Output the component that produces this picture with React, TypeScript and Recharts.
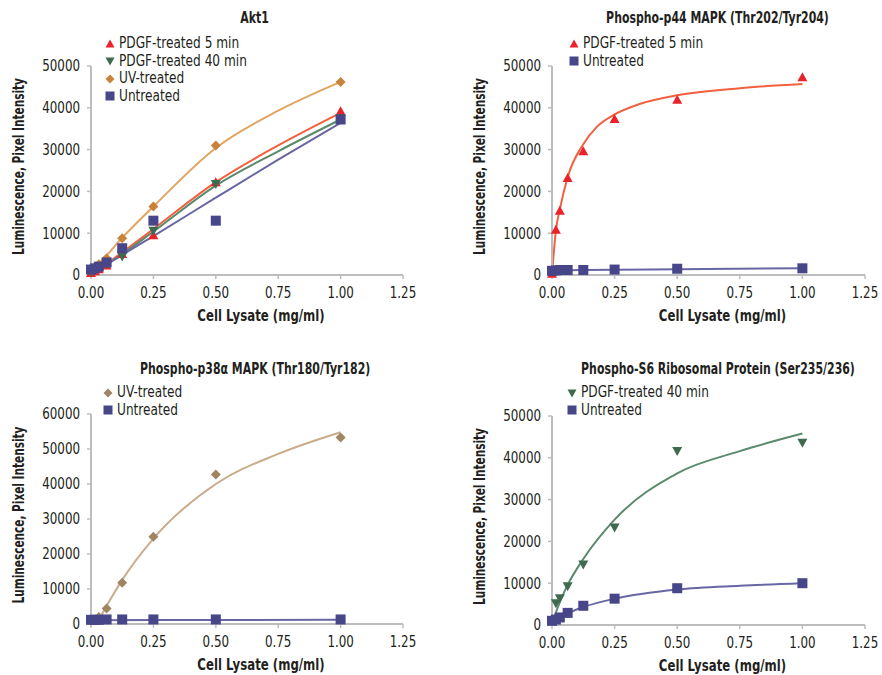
import React from "react";
import { ComposedChart, Line, Scatter, XAxis, YAxis } from "recharts";

// dose series used for every measured point (mg/ml)
const doses = [0, 0.0156, 0.03125, 0.0625, 0.125, 0.25, 0.5, 1.0];
const xTicks = [0, 0.25, 0.5, 0.75, 1.0, 1.25];

// Akt1
const akt1Pdgf5 = [500, 900, 1400, 2300, 5000, 9500, 22200, 39200];
const akt1Pdgf40 = [800, 1100, 1600, 2600, 4400, 10600, 21800, 37500];
const akt1Uv = [1200, 1800, 2600, 4000, 8800, 16400, 31000, 46200];
const akt1Untreated = [1300, 1600, 2000, 3000, 6400, 13000, 13000, 37200];
const akt1FitX = [0, 0.0625, 0.125, 0.25, 0.5, 0.75, 1.0];
const akt1FitPdgf5 = [0, 2700, 5400, 11000, 22200, 31000, 38800];
const akt1FitPdgf40 = [0, 2500, 5000, 10400, 21400, 29600, 37200];
const akt1FitUv = [800, 4700, 8900, 16400, 30400, 39300, 46200];
const akt1FitUntreated = [300, 2500, 4800, 9300, 18500, 27600, 36400];

// Phospho-p44 MAPK
const p44Pdgf5 = [300, 10800, 15400, 23200, 29600, 37300, 41900, 47300];
const p44Untreated = [1000, 1100, 1200, 1200, 1200, 1300, 1500, 1600];
const p44FitX = [0, 0.0156, 0.03125, 0.0625, 0.125, 0.18, 0.25, 0.35, 0.5, 0.75, 1.0];
const p44FitPdgf5 = [0, 10700, 15700, 23400, 31300, 35500, 38400, 40900, 43000, 44700, 45700];
const p44FitUntX = [0, 0.25, 0.5, 1.0];
const p44FitUntreated = [1100, 1250, 1400, 1600];

// Phospho-p38a MAPK
const p38Uv = [1000, 1200, 2000, 4400, 11800, 24900, 42700, 53300];
const p38Untreated = [1200, 1200, 1200, 1300, 1300, 1300, 1300, 1300];
const p38FitX = [0, 0.03125, 0.0625, 0.125, 0.25, 0.5, 0.75, 1.0];
const p38FitUv = [0, 1500, 5200, 12600, 24400, 40000, 48600, 54800];
const p38FitUntX = [0, 0.5, 1.0];
const p38FitUntreated = [1100, 1150, 1200];

// Phospho-S6 Ribosomal Protein
const s6Pdgf40 = [1000, 5200, 6400, 9300, 14500, 23300, 41600, 43600];
const s6Untreated = [1000, 1300, 1800, 2900, 4600, 6300, 8800, 10000];
const s6FitX = [0, 0.0156, 0.03125, 0.0625, 0.125, 0.25, 0.5, 0.75, 1.0];
const s6FitPdgf40 = [0, 3000, 5500, 9600, 15800, 25200, 36300, 41600, 45800];
const s6FitUntreated = [800, 1300, 1800, 2800, 4300, 6300, 8500, 9400, 10000];

const FONT = "'DejaVu Sans Condensed', 'DejaVu Sans', sans-serif";
const AXIS_GRAY = "#bdbdbd";
const TEXT = "#231f20";

const toPts = (xs: number[], ys: number[]) => xs.map((x, i) => ({ x, y: ys[i] }));

type Kind = "up" | "down" | "diamond" | "square";

const Marker = ({ cx, cy, kind, color, s = 4.5 }: any) => {
  if (cx == null || cy == null) return null;
  if (kind === "up")
    return <polygon points={`${cx},${cy - s} ${cx + s},${cy + s * 0.8} ${cx - s},${cy + s * 0.8}`} fill={color} />;
  if (kind === "down")
    return <polygon points={`${cx},${cy + s} ${cx + s},${cy - s * 0.8} ${cx - s},${cy - s * 0.8}`} fill={color} />;
  if (kind === "diamond")
    return <polygon points={`${cx},${cy - s} ${cx + s},${cy} ${cx},${cy + s} ${cx - s},${cy}`} fill={color} />;
  return <rect x={cx - s} y={cy - s} width={s * 2} height={s * 2} fill={color} />;
};

// condensed-looking tick labels (the original uses a narrow face)
const XTick = ({ x, y, payload }: any) => (
  <text
    transform={`translate(${x},${y}) scale(0.88,1)`}
    textAnchor="middle"
    dy="0.71em"
    fontSize={15}
    fill={TEXT}
  >
    {Number(payload.value).toFixed(2)}
  </text>
);

const YTick = ({ x, y, payload }: any) => (
  <text
    transform={`translate(${x},${y}) scale(0.88,1)`}
    textAnchor="end"
    dy="0.355em"
    fontSize={15}
    fill={TEXT}
  >
    {payload.value}
  </text>
);

interface Series {
  name: string;
  kind: Kind;
  color: string;
  lineColor: string;
  points: number[];
  fitX: number[];
  fitY: number[];
}

interface PanelProps {
  title: string;
  series: Series[];
  yMax: number;
  yTicks: number[];
  axisLeft: number;
  plotTop: number;
  plotBottom: number;
  plotRight: number;
  legendLeft: number;
  legendTop: number;
  titleCenter: number;
  titleTop: number;
}

const W = 441;
const H = 337;

function Panel(p: PanelProps) {
  return (
    <div style={{ position: "relative", width: W, height: H }}>
      <ComposedChart
        width={W}
        height={H}
        margin={{ top: p.plotTop, right: W - p.plotRight, bottom: 0, left: 0 }}
        style={{ fontFamily: FONT }}
      >
        <XAxis
          type="number"
          dataKey="x"
          domain={[0, 1.25]}
          ticks={xTicks}
          axisLine={{ stroke: AXIS_GRAY, strokeWidth: 2 }}
          tickLine={{ stroke: AXIS_GRAY, strokeWidth: 1.5 }}
          tickSize={4}
          tickMargin={8}
          tick={<XTick />}
          height={H - p.plotBottom}
          label={{
            content: (lp: any) => {
              const vb = lp.viewBox;
              const cx = vb.x + vb.width / 2 + 14;
              const cy = vb.y + 41;
              return (
                <text
                  transform={`translate(${cx},${cy}) scale(0.87,1)`}
                  textAnchor="middle"
                  dominantBaseline="central"
                  fontWeight="bold"
                  fontSize={15}
                  fill={TEXT}
                >
                  Cell Lysate (mg/ml)
                </text>
              );
            },
          }}
        />
        <YAxis
          type="number"
          dataKey="y"
          domain={[0, p.yMax]}
          ticks={p.yTicks}
          width={p.axisLeft}
          axisLine={{ stroke: AXIS_GRAY, strokeWidth: 2 }}
          tickLine={{ stroke: AXIS_GRAY, strokeWidth: 1.5 }}
          tickSize={4}
          tickMargin={7}
          tick={<YTick />}
          label={{
            content: (lp: any) => {
              const vb = lp.viewBox;
              const cx = vb.x + vb.width - 72;
              const cy = vb.y + vb.height / 2 - 4;
              return (
                <text
                  transform={`translate(${cx},${cy}) rotate(-90) scale(0.78,1)`}
                  textAnchor="middle"
                  dominantBaseline="central"
                  fontWeight="bold"
                  fontSize={15}
                  fill={TEXT}
                >
                  Luminescence,  Pixel Intensity
                </text>
              );
            },
          }}
        />
        {p.series.map((s) => (
          <Line
            key={s.name + "-fit"}
            data={toPts(s.fitX, s.fitY)}
            dataKey="y"
            type="monotone"
            stroke={s.lineColor}
            strokeWidth={2}
            dot={false}
            activeDot={false}
            legendType="none"
            isAnimationActive={false}
          />
        ))}
        {p.series.map((s) => (
          <Scatter
            key={s.name}
            name={s.name}
            data={toPts(doses, s.points)}
            dataKey="y"
            shape={(sp: any) => <Marker cx={sp.cx} cy={sp.cy} kind={s.kind} color={s.color} s={5} />}
            isAnimationActive={false}
          />
        ))}
      </ComposedChart>
      <div
        style={{
          position: "absolute",
          left: p.titleCenter - 220,
          width: 440,
          top: p.titleTop,
          textAlign: "center",
          fontFamily: FONT,
          fontWeight: "bold",
          fontSize: 15,
          color: TEXT,
          whiteSpace: "nowrap",
        }}
      >
        <span style={{ display: "inline-block", transform: "scaleX(0.81)", transformOrigin: "center" }}>{p.title}</span>
      </div>
      <div
        style={{
          position: "absolute",
          left: p.legendLeft,
          top: p.legendTop,
          fontFamily: FONT,
          fontSize: 15,
          color: TEXT,
          lineHeight: "17.5px",
          whiteSpace: "nowrap",
        }}
      >
        {p.series.map((s) => (
          <div key={s.name} style={{ display: "flex", alignItems: "center" }}>
            <svg width={12} height={12} style={{ marginRight: 3 }}>
              <Marker cx={6} cy={6} kind={s.kind} color={s.color} s={4.5} />
            </svg>
            <span style={{ display: "inline-block", transform: "scaleX(0.9)", transformOrigin: "left center" }}>
              {s.name}
            </span>
          </div>
        ))}
      </div>
    </div>
  );
}

const RED = "#e8232b";
const RED_LINE = "#f2603f";
const GREEN = "#3f6a4f";
const GREEN_LINE = "#5a8a6c";
const ORANGE = "#c8823a";
const ORANGE_LINE = "#e3a461";
const PURPLE = "#464688";
const PURPLE_LINE = "#6767a3";
const TAN = "#a08562";
const TAN_LINE = "#c9ac8c";

export default function App() {
  return (
    <div style={{ position: "absolute", left: 0, top: 0, width: 882, height: 675, background: "#fff" }}>
      <style>{`.recharts-surface { overflow: visible; }`}</style>
      <div style={{ display: "flex" }}>
        <Panel
          title="Akt1"
          yMax={50000}
          yTicks={[0, 10000, 20000, 30000, 40000, 50000]}
          axisLeft={91}
          plotTop={66}
          plotBottom={275}
          plotRight={403}
          legendLeft={104}
          legendTop={35}
          titleCenter={255}
          titleTop={9}
          series={[
            { name: "PDGF-treated 5 min", kind: "up", color: RED, lineColor: RED_LINE, points: akt1Pdgf5, fitX: akt1FitX, fitY: akt1FitPdgf5 },
            { name: "PDGF-treated 40 min", kind: "down", color: GREEN, lineColor: GREEN_LINE, points: akt1Pdgf40, fitX: akt1FitX, fitY: akt1FitPdgf40 },
            { name: "UV-treated", kind: "diamond", color: ORANGE, lineColor: ORANGE_LINE, points: akt1Uv, fitX: akt1FitX, fitY: akt1FitUv },
            { name: "Untreated", kind: "square", color: PURPLE, lineColor: PURPLE_LINE, points: akt1Untreated, fitX: akt1FitX, fitY: akt1FitUntreated },
          ]}
        />
        <Panel
          title="Phospho-p44 MAPK (Thr202/Tyr204)"
          yMax={50000}
          yTicks={[0, 10000, 20000, 30000, 40000, 50000]}
          axisLeft={111}
          plotTop={66}
          plotBottom={275}
          plotRight={424}
          legendLeft={127}
          legendTop={35}
          titleCenter={276}
          titleTop={9}
          series={[
            { name: "PDGF-treated 5 min", kind: "up", color: RED, lineColor: RED_LINE, points: p44Pdgf5, fitX: p44FitX, fitY: p44FitPdgf5 },
            { name: "Untreated", kind: "square", color: PURPLE, lineColor: PURPLE_LINE, points: p44Untreated, fitX: p44FitUntX, fitY: p44FitUntreated },
          ]}
        />
      </div>
      <div style={{ display: "flex" }}>
        <Panel
          title="Phospho-p38α MAPK (Thr180/Tyr182)"
          yMax={60000}
          yTicks={[0, 10000, 20000, 30000, 40000, 50000, 60000]}
          axisLeft={91}
          plotTop={77}
          plotBottom={287}
          plotRight={403}
          legendLeft={102}
          legendTop={47}
          titleCenter={255}
          titleTop={23}
          series={[
            { name: "UV-treated", kind: "diamond", color: TAN, lineColor: TAN_LINE, points: p38Uv, fitX: p38FitX, fitY: p38FitUv },
            { name: "Untreated", kind: "square", color: PURPLE, lineColor: PURPLE_LINE, points: p38Untreated, fitX: p38FitUntX, fitY: p38FitUntreated },
          ]}
        />
        <Panel
          title="Phospho-S6 Ribosomal Protein (Ser235/236)"
          yMax={50000}
          yTicks={[0, 10000, 20000, 30000, 40000, 50000]}
          axisLeft={111}
          plotTop={79}
          plotBottom={288}
          plotRight={424}
          legendLeft={125}
          legendTop={47}
          titleCenter={277}
          titleTop={23}
          series={[
            { name: "PDGF-treated 40 min", kind: "down", color: GREEN, lineColor: GREEN_LINE, points: s6Pdgf40, fitX: s6FitX, fitY: s6FitPdgf40 },
            { name: "Untreated", kind: "square", color: PURPLE, lineColor: PURPLE_LINE, points: s6Untreated, fitX: s6FitX, fitY: s6FitUntreated },
          ]}
        />
      </div>
    </div>
  );
}
